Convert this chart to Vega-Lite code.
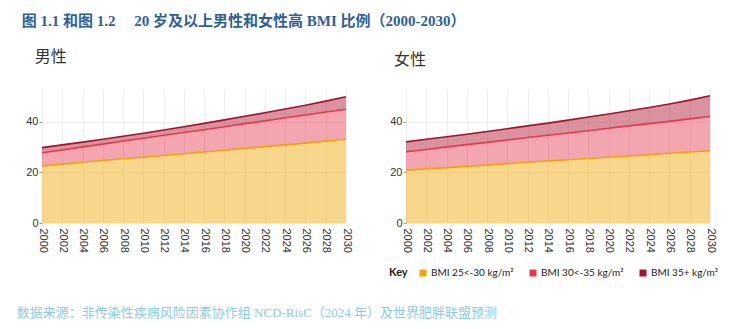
{
  "$schema": "https://vega.github.io/schema/vega-lite/v6.json",
  "padding": {"left": 16, "top": 14, "right": 5, "bottom": 5},
  "background": "white",
  "title": {"text": "数据来源：非传染性疾病风险因素协作组 NCD-RisC（2024 年）及世界肥胖联盟预测", "orient": "bottom", "anchor": "start", "frame": "bounds", "font": "Liberation Serif, Noto Sans CJK SC", "fontSize": 13, "fontWeight": "normal", "color": "#8ccbea", "offset": 29, "dx": -5},
  "datasets": {
    "men": [
      {"year": 2000, "cat": "BMI 25<-30 kg/m²", "ord": 1, "value": 22.6},
      {"year": 2002, "cat": "BMI 25<-30 kg/m²", "ord": 1, "value": 23.3},
      {"year": 2004, "cat": "BMI 25<-30 kg/m²", "ord": 1, "value": 24.0},
      {"year": 2006, "cat": "BMI 25<-30 kg/m²", "ord": 1, "value": 24.7},
      {"year": 2008, "cat": "BMI 25<-30 kg/m²", "ord": 1, "value": 25.4},
      {"year": 2010, "cat": "BMI 25<-30 kg/m²", "ord": 1, "value": 26.0},
      {"year": 2012, "cat": "BMI 25<-30 kg/m²", "ord": 1, "value": 26.7},
      {"year": 2014, "cat": "BMI 25<-30 kg/m²", "ord": 1, "value": 27.4},
      {"year": 2016, "cat": "BMI 25<-30 kg/m²", "ord": 1, "value": 28.1},
      {"year": 2018, "cat": "BMI 25<-30 kg/m²", "ord": 1, "value": 28.8},
      {"year": 2020, "cat": "BMI 25<-30 kg/m²", "ord": 1, "value": 29.5},
      {"year": 2022, "cat": "BMI 25<-30 kg/m²", "ord": 1, "value": 30.2},
      {"year": 2024, "cat": "BMI 25<-30 kg/m²", "ord": 1, "value": 30.9},
      {"year": 2026, "cat": "BMI 25<-30 kg/m²", "ord": 1, "value": 31.6},
      {"year": 2028, "cat": "BMI 25<-30 kg/m²", "ord": 1, "value": 32.4},
      {"year": 2030, "cat": "BMI 25<-30 kg/m²", "ord": 1, "value": 33.1},
      {"year": 2000, "cat": "BMI 30<-35 kg/m²", "ord": 2, "value": 5.2},
      {"year": 2002, "cat": "BMI 30<-35 kg/m²", "ord": 2, "value": 5.6},
      {"year": 2004, "cat": "BMI 30<-35 kg/m²", "ord": 2, "value": 6.1},
      {"year": 2006, "cat": "BMI 30<-35 kg/m²", "ord": 2, "value": 6.5},
      {"year": 2008, "cat": "BMI 30<-35 kg/m²", "ord": 2, "value": 7.0},
      {"year": 2010, "cat": "BMI 30<-35 kg/m²", "ord": 2, "value": 7.5},
      {"year": 2012, "cat": "BMI 30<-35 kg/m²", "ord": 2, "value": 8.0},
      {"year": 2014, "cat": "BMI 30<-35 kg/m²", "ord": 2, "value": 8.4},
      {"year": 2016, "cat": "BMI 30<-35 kg/m²", "ord": 2, "value": 8.8},
      {"year": 2018, "cat": "BMI 30<-35 kg/m²", "ord": 2, "value": 9.3},
      {"year": 2020, "cat": "BMI 30<-35 kg/m²", "ord": 2, "value": 9.8},
      {"year": 2022, "cat": "BMI 30<-35 kg/m²", "ord": 2, "value": 10.2},
      {"year": 2024, "cat": "BMI 30<-35 kg/m²", "ord": 2, "value": 10.7},
      {"year": 2026, "cat": "BMI 30<-35 kg/m²", "ord": 2, "value": 11.1},
      {"year": 2028, "cat": "BMI 30<-35 kg/m²", "ord": 2, "value": 11.5},
      {"year": 2030, "cat": "BMI 30<-35 kg/m²", "ord": 2, "value": 11.9},
      {"year": 2000, "cat": "BMI 35+ kg/m²", "ord": 3, "value": 2.0},
      {"year": 2002, "cat": "BMI 35+ kg/m²", "ord": 3, "value": 2.0},
      {"year": 2004, "cat": "BMI 35+ kg/m²", "ord": 3, "value": 1.9},
      {"year": 2006, "cat": "BMI 35+ kg/m²", "ord": 3, "value": 1.9},
      {"year": 2008, "cat": "BMI 35+ kg/m²", "ord": 3, "value": 1.9},
      {"year": 2010, "cat": "BMI 35+ kg/m²", "ord": 3, "value": 2.0},
      {"year": 2012, "cat": "BMI 35+ kg/m²", "ord": 3, "value": 2.1},
      {"year": 2014, "cat": "BMI 35+ kg/m²", "ord": 3, "value": 2.3},
      {"year": 2016, "cat": "BMI 35+ kg/m²", "ord": 3, "value": 2.5},
      {"year": 2018, "cat": "BMI 35+ kg/m²", "ord": 3, "value": 2.7},
      {"year": 2020, "cat": "BMI 35+ kg/m²", "ord": 3, "value": 2.9},
      {"year": 2022, "cat": "BMI 35+ kg/m²", "ord": 3, "value": 3.2},
      {"year": 2024, "cat": "BMI 35+ kg/m²", "ord": 3, "value": 3.5},
      {"year": 2026, "cat": "BMI 35+ kg/m²", "ord": 3, "value": 3.9},
      {"year": 2028, "cat": "BMI 35+ kg/m²", "ord": 3, "value": 4.3},
      {"year": 2030, "cat": "BMI 35+ kg/m²", "ord": 3, "value": 4.9}
    ],
    "women": [
      {"year": 2000, "cat": "BMI 25<-30 kg/m²", "ord": 1, "value": 20.9},
      {"year": 2002, "cat": "BMI 25<-30 kg/m²", "ord": 1, "value": 21.4},
      {"year": 2004, "cat": "BMI 25<-30 kg/m²", "ord": 1, "value": 21.9},
      {"year": 2006, "cat": "BMI 25<-30 kg/m²", "ord": 1, "value": 22.4},
      {"year": 2008, "cat": "BMI 25<-30 kg/m²", "ord": 1, "value": 22.9},
      {"year": 2010, "cat": "BMI 25<-30 kg/m²", "ord": 1, "value": 23.5},
      {"year": 2012, "cat": "BMI 25<-30 kg/m²", "ord": 1, "value": 24.0},
      {"year": 2014, "cat": "BMI 25<-30 kg/m²", "ord": 1, "value": 24.5},
      {"year": 2016, "cat": "BMI 25<-30 kg/m²", "ord": 1, "value": 25.0},
      {"year": 2018, "cat": "BMI 25<-30 kg/m²", "ord": 1, "value": 25.5},
      {"year": 2020, "cat": "BMI 25<-30 kg/m²", "ord": 1, "value": 26.0},
      {"year": 2022, "cat": "BMI 25<-30 kg/m²", "ord": 1, "value": 26.5},
      {"year": 2024, "cat": "BMI 25<-30 kg/m²", "ord": 1, "value": 27.0},
      {"year": 2026, "cat": "BMI 25<-30 kg/m²", "ord": 1, "value": 27.6},
      {"year": 2028, "cat": "BMI 25<-30 kg/m²", "ord": 1, "value": 28.1},
      {"year": 2030, "cat": "BMI 25<-30 kg/m²", "ord": 1, "value": 28.6},
      {"year": 2000, "cat": "BMI 30<-35 kg/m²", "ord": 2, "value": 7.3},
      {"year": 2002, "cat": "BMI 30<-35 kg/m²", "ord": 2, "value": 7.7},
      {"year": 2004, "cat": "BMI 30<-35 kg/m²", "ord": 2, "value": 8.2},
      {"year": 2006, "cat": "BMI 30<-35 kg/m²", "ord": 2, "value": 8.6},
      {"year": 2008, "cat": "BMI 30<-35 kg/m²", "ord": 2, "value": 9.0},
      {"year": 2010, "cat": "BMI 30<-35 kg/m²", "ord": 2, "value": 9.3},
      {"year": 2012, "cat": "BMI 30<-35 kg/m²", "ord": 2, "value": 9.8},
      {"year": 2014, "cat": "BMI 30<-35 kg/m²", "ord": 2, "value": 10.2},
      {"year": 2016, "cat": "BMI 30<-35 kg/m²", "ord": 2, "value": 10.6},
      {"year": 2018, "cat": "BMI 30<-35 kg/m²", "ord": 2, "value": 11.0},
      {"year": 2020, "cat": "BMI 30<-35 kg/m²", "ord": 2, "value": 11.5},
      {"year": 2022, "cat": "BMI 30<-35 kg/m²", "ord": 2, "value": 11.9},
      {"year": 2024, "cat": "BMI 30<-35 kg/m²", "ord": 2, "value": 12.3},
      {"year": 2026, "cat": "BMI 30<-35 kg/m²", "ord": 2, "value": 12.6},
      {"year": 2028, "cat": "BMI 30<-35 kg/m²", "ord": 2, "value": 13.1},
      {"year": 2030, "cat": "BMI 30<-35 kg/m²", "ord": 2, "value": 13.5},
      {"year": 2000, "cat": "BMI 35+ kg/m²", "ord": 3, "value": 3.9},
      {"year": 2002, "cat": "BMI 35+ kg/m²", "ord": 3, "value": 4.0},
      {"year": 2004, "cat": "BMI 35+ kg/m²", "ord": 3, "value": 4.0},
      {"year": 2006, "cat": "BMI 35+ kg/m²", "ord": 3, "value": 4.1},
      {"year": 2008, "cat": "BMI 35+ kg/m²", "ord": 3, "value": 4.3},
      {"year": 2010, "cat": "BMI 35+ kg/m²", "ord": 3, "value": 4.5},
      {"year": 2012, "cat": "BMI 35+ kg/m²", "ord": 3, "value": 4.6},
      {"year": 2014, "cat": "BMI 35+ kg/m²", "ord": 3, "value": 4.8},
      {"year": 2016, "cat": "BMI 35+ kg/m²", "ord": 3, "value": 5.1},
      {"year": 2018, "cat": "BMI 35+ kg/m²", "ord": 3, "value": 5.4},
      {"year": 2020, "cat": "BMI 35+ kg/m²", "ord": 3, "value": 5.6},
      {"year": 2022, "cat": "BMI 35+ kg/m²", "ord": 3, "value": 6.0},
      {"year": 2024, "cat": "BMI 35+ kg/m²", "ord": 3, "value": 6.4},
      {"year": 2026, "cat": "BMI 35+ kg/m²", "ord": 3, "value": 6.9},
      {"year": 2028, "cat": "BMI 35+ kg/m²", "ord": 3, "value": 7.4},
      {"year": 2030, "cat": "BMI 35+ kg/m²", "ord": 3, "value": 8.2}
    ]
  },
  "vconcat": [
    {
      "title": {"text": "图 1.1 和图 1.2　 20 岁及以上男性和女性高 BMI 比例（2000-2030）", "anchor": "start", "frame": "bounds", "font": "Liberation Serif, Noto Sans CJK SC", "fontSize": 15, "fontWeight": "bold", "color": "#2f5f95", "offset": 20, "dx": -4},
      "spacing": 37,
      "resolve": {"legend": {"color": "independent"}},
      "hconcat": [
        {
          "width": 304,
          "height": 134,
          "title": {"text": "男性", "anchor": "start", "frame": "bounds", "font": "Noto Sans CJK SC", "fontSize": 16, "fontWeight": "normal", "color": "#333333", "offset": 24, "dx": 9},
          "data": {"name": "men"},
          "mark": {"type": "area", "fillOpacity": 0.45, "line": {"strokeWidth": 1.6}},
          "encoding": {
            "x": {"field": "year", "type": "quantitative", "scale": {"domain": [2000, 2030], "nice": false}, "axis": {"title": null, "values": [2000, 2002, 2004, 2006, 2008, 2010, 2012, 2014, 2016, 2018, 2020, 2022, 2024, 2026, 2028, 2030], "format": "d", "labelAngle": 90, "labelAlign": "left", "labelBaseline": "middle", "ticks": false, "domain": false, "labelPadding": 5, "grid": true, "gridColor": "#eeeeee"}},
            "y": {"field": "value", "type": "quantitative", "stack": "zero", "scale": {"domain": [0, 53], "nice": false}, "axis": {"title": null, "values": [0, 20, 40], "domain": false, "tickSize": 3, "tickColor": "#999999", "labelPadding": 1, "grid": true, "gridColor": "#eeeeee"}},
            "color": {"field": "cat", "type": "nominal", "scale": {"domain": ["BMI 25<-30 kg/m²", "BMI 30<-35 kg/m²", "BMI 35+ kg/m²"], "range": ["#f0a500", "#e63950", "#a8102a"]}, "legend": null},
            "order": {"field": "ord", "type": "quantitative"}
          }
        },
        {
          "width": 304,
          "height": 134,
          "title": {"text": "女性", "anchor": "start", "frame": "bounds", "font": "Noto Sans CJK SC", "fontSize": 16, "fontWeight": "normal", "color": "#333333", "offset": 21, "dx": 5},
          "data": {"name": "women"},
          "mark": {"type": "area", "fillOpacity": 0.45, "line": {"strokeWidth": 1.6}},
          "encoding": {
            "x": {"field": "year", "type": "quantitative", "scale": {"domain": [2000, 2030], "nice": false}, "axis": {"title": null, "values": [2000, 2002, 2004, 2006, 2008, 2010, 2012, 2014, 2016, 2018, 2020, 2022, 2024, 2026, 2028, 2030], "format": "d", "labelAngle": 90, "labelAlign": "left", "labelBaseline": "middle", "ticks": false, "domain": false, "labelPadding": 5, "grid": true, "gridColor": "#eeeeee"}},
            "y": {"field": "value", "type": "quantitative", "stack": "zero", "scale": {"domain": [0, 53], "nice": false}, "axis": {"title": null, "values": [0, 20, 40], "domain": false, "tickSize": 3, "tickColor": "#999999", "labelPadding": 1, "grid": true, "gridColor": "#eeeeee"}},
            "color": {"field": "cat", "type": "nominal", "scale": {"domain": ["BMI 25<-30 kg/m²", "BMI 30<-35 kg/m²", "BMI 35+ kg/m²"], "range": ["#f0a500", "#e63950", "#a8102a"]}, "legend": {"title": "Key", "orient": "none", "legendX": -17, "legendY": 179, "direction": "horizontal", "titleOrient": "left", "titleFont": "Lato", "titleFontSize": 11, "titleFontWeight": "bold", "titleColor": "#222222", "titlePadding": 10, "labelFont": "Lato", "labelFontSize": 10, "labelColor": "#222222", "symbolType": "square", "symbolSize": 49, "symbolOpacity": 1, "symbolFillOpacity": 1, "symbolStrokeWidth": 0, "columnPadding": 14, "labelOffset": 3, "labelLimit": 200}},
            "order": {"field": "ord", "type": "quantitative"}
          }
        }
      ]
    }
  ],
  "config": {
    "view": {"stroke": null},
    "axis": {"labelFont": "Liberation Sans", "labelFontSize": 11, "labelColor": "#333333"}
  }
}
